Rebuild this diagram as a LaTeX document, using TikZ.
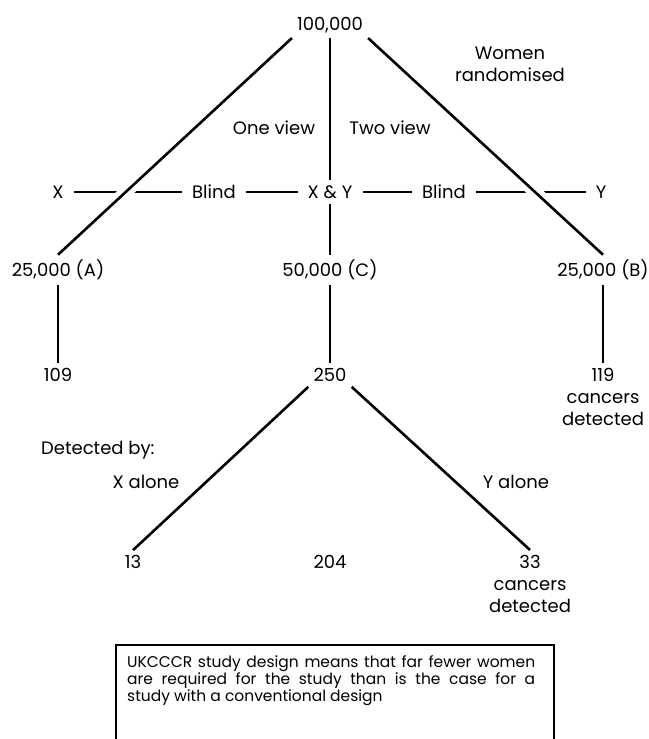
\documentclass[tikz,border=0pt]{standalone}
\usepackage{fontspec}
\setmainfont{Poppins}
\usetikzlibrary{positioning}

\begin{document}
\begin{tikzpicture}[x=1pt, y=-1pt,
  lbl/.style={font=\fontsize{18}{22}\selectfont, inner sep=5pt, align=center},
  row/.style={lbl, inner xsep=10pt},
  link/.style={line width=2.6pt},
  cross/.style={link, preaction={draw, white, line width=13pt, shorten <=30pt, shorten >=30pt}}]
\useasboundingbox (0,0) rectangle (648,739);
% randomisation
\node[lbl] (total) at (330,25) {100,000};
\node[lbl] (women) at (510,64) {Women\\randomised};
\node[lbl] (one) at (274,128) {One view};
\node[lbl] (two) at (390,128) {Two view};
% reading
\node[row] (x) at (58,192) {X};
\node[row] (blindl) at (214,192) {Blind};
\node[row] (xy) at (330,192) {X \& Y};
\node[row] (blindr) at (444,192) {Blind};
\node[row] (y) at (601,192) {Y};
\draw[link] (x) -- (blindl);
\draw[link] (blindl) -- (xy);
\draw[link] (xy) -- (blindr);
\draw[link] (blindr) -- (y);
% arms
\node[lbl] (armA) at (58,270) {25,000 (A)};
\node[lbl] (armC) at (330,270) {50,000 (C)};
\node[lbl] (armB) at (603,270) {25,000 (B)};
\draw[cross] (total.south west) -- (armA.north);
\draw[cross] (total.south east) -- (armB.north);
\draw[link] (total) -- (xy);
\draw[link] (xy) -- (armC);
% cancers
\node[lbl] (canA) at (58,375) {109};
\node[lbl] (canC) at (330,375) {250};
\node[lbl, anchor=north] (canB) at (603,363) {119\\cancers\\detected};
\draw[link] (armA) -- (canA);
\draw[link] (armC) -- (canC);
\draw[link] (armB) -- (canB);
\node[lbl, anchor=west] (detby) at (36,450) {Detected by:};
\node[lbl] (xalone) at (146,482) {X alone};
\node[lbl] (yalone) at (516,482) {Y alone};
\node[lbl] (onlyx) at (133,562) {13};
\node[lbl] (both) at (330,562) {204};
\node[lbl, anchor=north] (onlyy) at (530,550) {33\\cancers\\detected};
\draw[link] (canC.south west) -- (onlyx.north);
\draw[link] (canC.south east) -- (onlyy.north);
% note
\draw[line width=1.8pt] (116,645) rectangle (554,760);
\node[font=\fontsize{15.5}{17}\selectfont, text width=408pt, align=justify, inner sep=0pt, anchor=north west] (note) at (127,655)
  {\hyphenpenalty=10000\relax UKCCCR study design means that far fewer women are required for the study than is the case for a\linebreak study with a conventional design};
\end{tikzpicture}
\end{document}
